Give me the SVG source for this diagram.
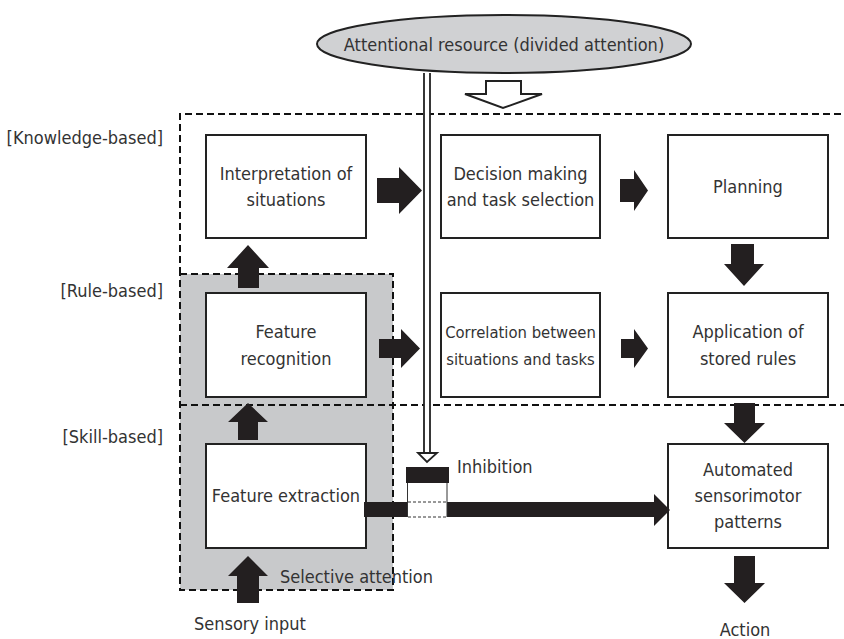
<svg xmlns="http://www.w3.org/2000/svg" width="844" height="639" viewBox="0 0 844 639">
<style>
text{font-family:"Liberation Sans Narrow","DejaVu Sans Condensed","Liberation Sans",sans-serif;font-size:18px;fill:#333;}
.c{text-anchor:middle;}
.r{text-anchor:end;}
.box{fill:#fff;stroke:#222;stroke-width:2;}
.dash{fill:none;stroke:#111;stroke-width:2;stroke-dasharray:7,4;}
.blk{fill:#231f20;stroke:none;}
.thin{fill:none;stroke:#333;stroke-width:1;}
.thind{fill:none;stroke:#333;stroke-width:1;stroke-dasharray:3,2;}
</style>
<rect x="0" y="0" width="844" height="639" fill="#fff"/>
<g id="zones">
<rect x="180" y="274" width="213" height="316" fill="#c8c9cb"/>
<path class="dash" d="M180,274 V114 H844"/>
<path class="dash" d="M180,405 H844"/>
<rect class="dash" x="180" y="274" width="213" height="316"/>
</g>
<g id="resource">
<ellipse cx="504" cy="44" rx="187" ry="29" fill="#d0d1d3" stroke="#222" stroke-width="2"/>
<text class="c" x="504" y="51">Attentional resource (divided attention)</text>
</g>
<g id="labels">
<text class="r" x="163" y="144">[Knowledge-based]</text>
<text class="r" x="163" y="297">[Rule-based]</text>
<text class="r" x="163" y="443">[Skill-based]</text>
</g>
<g id="n-interp"><rect class="box" x="206" y="135" width="160" height="103"/><text class="c" x="286" y="180">Interpretation of</text><text class="c" x="286" y="206">situations</text></g>
<g id="n-decision"><rect class="box" x="441" y="135" width="159" height="103"/><text class="c" x="520.5" y="180">Decision making</text><text class="c" x="520.5" y="206">and task selection</text></g>
<g id="n-planning"><rect class="box" x="668" y="135" width="160" height="103"/><text class="c" x="748" y="193">Planning</text></g>
<g id="n-featrec"><rect class="box" x="206" y="293" width="160" height="104"/><text class="c" x="286" y="338">Feature</text><text class="c" x="286" y="365">recognition</text></g>
<g id="n-correl"><rect class="box" x="441" y="293" width="159" height="104"/><text class="c" x="520.5" y="338" style="font-size:16.5px">Correlation between</text><text class="c" x="520.5" y="365" style="font-size:16.5px">situations and tasks</text></g>
<g id="n-apply"><rect class="box" x="668" y="293" width="160" height="104"/><text class="c" x="748" y="338">Application of</text><text class="c" x="748" y="365">stored rules</text></g>
<g id="n-featext"><rect class="box" x="206" y="444" width="160" height="104"/><text class="c" x="286" y="502">Feature extraction</text></g>
<g id="n-auto"><rect class="box" x="668" y="444" width="160" height="104"/><text class="c" x="748" y="476">Automated</text><text class="c" x="748" y="502">sensorimotor</text><text class="c" x="748" y="528">patterns</text></g>
<g id="connectors">
<polygon class="blk" points="377,178 399,178 399,167 422,190.5 399,214 399,203 377,203"/>
<polygon class="blk" points="620,179 634,179 634,170 648,190.5 634,211 634,202 620,202"/>
<polygon class="blk" points="379,339 401,339 401,329 420,348.5 401,368 401,358 379,358"/>
<polygon class="blk" points="621,339 634,339 634,329 648,348.5 634,368 634,358 621,358"/>
<polygon class="blk" points="238,288 238,268 227,268 248,245 269,268 259,268 259,288"/>
<polygon class="blk" points="238,440 238,422 228,422 248,403 268,422 258,422 258,440"/>
<polygon class="blk" points="237,603 237,576 228,576 248,556 268,576 259,576 259,603"/>
<polygon class="blk" points="731,244 754,244 754,264 764,264 744,286 724,264 731,264"/>
<polygon class="blk" points="734,403 755,403 755,423 765,423 744.5,443 724,423 734,423"/>
<polygon class="blk" points="734,556 755,556 755,583 765,583 744.5,603 724,583 734,583"/>
<rect class="blk" x="364" y="502" width="44" height="15"/>
<polygon class="blk" points="447,502 654,502 654,494 670,510 654,526 654,517 447,517"/>
<path class="thin" d="M407.5,483 V517 M447,483 V517"/>
<path class="thind" d="M408,502 H447 M408,517 H447"/>
<rect class="blk" x="406" y="467" width="43" height="16"/>
<rect x="424" y="73" width="6" height="382" fill="#fff"/>
<path d="M424,73 V455 M430,73 V455" stroke="#222" stroke-width="1.8" fill="none"/>
<polygon points="418,453 437,453 427,462" fill="#fff" stroke="#222" stroke-width="1.8" stroke-linejoin="miter"/>
<polygon points="486,81 521,81 521,94 542,94 503,108 465,94 486,94" fill="#fff" stroke="#222" stroke-width="2"/>
</g>
<g id="annotations">
<text x="457" y="473">Inhibition</text>
<text x="280" y="583">Selective attention</text>
<text x="194" y="630">Sensory input</text>
<text class="c" x="745" y="636">Action</text>
</g>
</svg>
